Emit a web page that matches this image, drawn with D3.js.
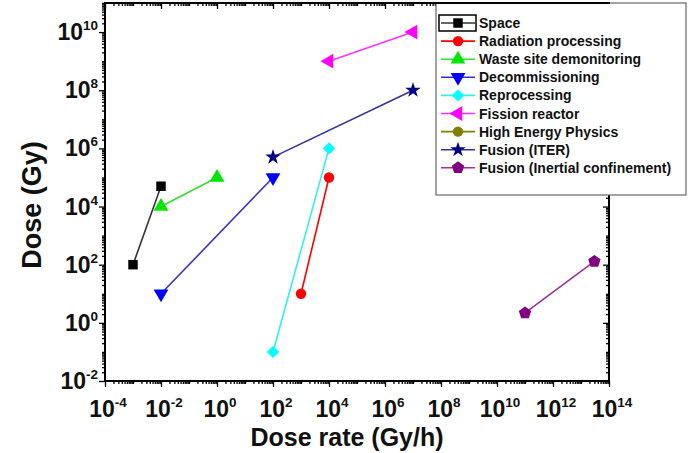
<!DOCTYPE html>
<html>
<head>
<meta charset="utf-8">
<script src="https://cdn.jsdelivr.net/npm/d3@7/dist/d3.min.js"></script>
<style>
  html, body { margin: 0; padding: 0; background: #fff; }
  svg { display: block; font-family: "Liberation Sans", Arial, sans-serif; font-weight: bold; }
</style>
</head>
<body>
<svg id="chart" width="697" height="453"></svg>
<script>
// Series names, colours and marker shapes
const seriesNames = ["Space", "Radiation processing", "Waste site demonitoring", "Decommissioning",
  "Reprocessing", "Fission reactor", "High Energy Physics", "Fusion (ITER)", "Fusion (Inertial confinement)"];
const seriesColors = ["#000000", "#ff0000", "#00e600", "#0000ff", "#00ffff", "#ff00ff", "#808000", "#000080", "#800080"];
const seriesLineColors = ["#333333", "#ff0000", "#33dd33", "#3333cc", "#33eeee", "#ff33ff", "#808000", "#333399", "#993399"];
const seriesMarkers = ["square", "circle", "triangleUp", "triangleDown", "diamond", "triangleLeft", "circle", "star", "pentagon"];

// Dose rate (Gy/h) and dose (Gy) pairs per series
const spaceRate = [1e-3, 1e-2];         const spaceDose = [1e2, 5e4];
const radProcRate = [1e3, 1e4];         const radProcDose = [1e1, 1e5];
const wasteRate = [1e-2, 1e0];          const wasteDose = [1e4, 1e5];
const decomRate = [1e-2, 1e2];          const decomDose = [1e1, 1e5];
const reprocRate = [1e2, 1e4];          const reprocDose = [1e-1, 1e6];
const fissionRate = [1e4, 1e7];         const fissionDose = [1e9, 1e10];
const hepRate = [];                     const hepDose = [];
const iterRate = [1e2, 1e7];            const iterDose = [5e5, 1e8];
const inertialRate = [1e11, 3e13];      const inertialDose = [2.2, 1.3e2];

const seriesRates = [spaceRate, radProcRate, wasteRate, decomRate, reprocRate, fissionRate, hepRate, iterRate, inertialRate];
const seriesDoses = [spaceDose, radProcDose, wasteDose, decomDose, reprocDose, fissionDose, hepDose, iterDose, inertialDose];

// Tick label exponents
const xTickExps = [-4, -2, 0, 2, 4, 6, 8, 10, 12, 14];
const yTickExps = [-2, 0, 2, 4, 6, 8, 10];

const svg = d3.select("#chart");
const plotLeft = 105, plotRight = 609, plotTop = 3, plotBottom = 381;

const x = d3.scaleLog().domain([1e-4, 1e14]).range([plotLeft, plotRight]);
const y = d3.scaleLog().domain([1e-2, 1e11]).range([plotBottom, plotTop]);

// Minor ticks: every 1..9 x decade; major ticks at labelled decades
function logTicks(lo, hi) {
  const t = [];
  for (let e = lo; e < hi; e++) for (let m = 1; m < 10; m++) t.push(m * Math.pow(10, e));
  t.push(Math.pow(10, hi));
  return t;
}
const isMajor = (v, exps) => exps.some(e => Math.abs(Math.log10(v) - e) < 1e-9);
const xMinor = logTicks(-4, 14).filter(v => !isMajor(v, xTickExps));
const yMinor = logTicks(-2, 11).filter(v => !isMajor(v, yTickExps));
const xMajor = xTickExps.map(e => Math.pow(10, e));
const yMajor = yTickExps.map(e => Math.pow(10, e));

function drawAxis(axisGen, transform) {
  const g = svg.append("g").attr("transform", transform).call(axisGen);
  g.selectAll("text").remove();
  g.select(".domain").remove();
  g.selectAll("line").attr("stroke", "#000").attr("stroke-width", 1.3);
  return g;
}

// Bottom / left ticks outward, top / right ticks inward
drawAxis(d3.axisBottom(x).tickValues(xMajor).tickSize(6), `translate(0,${plotBottom})`);
drawAxis(d3.axisBottom(x).tickValues(xMinor).tickSize(3), `translate(0,${plotBottom})`);
drawAxis(d3.axisLeft(y).tickValues(yMajor).tickSize(6), `translate(${plotLeft},0)`);
drawAxis(d3.axisLeft(y).tickValues(yMinor).tickSize(3), `translate(${plotLeft},0)`);
drawAxis(d3.axisBottom(x).tickValues(xMajor).tickSize(6), `translate(0,${plotTop})`);
drawAxis(d3.axisBottom(x).tickValues(xMinor).tickSize(3), `translate(0,${plotTop})`);
drawAxis(d3.axisLeft(y).tickValues(yMajor).tickSize(6), `translate(${plotRight},0)`);
drawAxis(d3.axisLeft(y).tickValues(yMinor).tickSize(3), `translate(${plotRight},0)`);

// Frame
svg.append("rect").attr("x", plotLeft).attr("y", plotTop)
  .attr("width", plotRight - plotLeft).attr("height", plotBottom - plotTop)
  .attr("fill", "none").attr("stroke", "#000").attr("stroke-width", 2);

// Tick labels with superscript exponents
function powLabel(sel, e) {
  sel.append("tspan").text("10");
  sel.append("tspan").attr("dy", -10).attr("font-size", 13.5).text(e);
}
xTickExps.forEach(e => {
  const t = svg.append("text").attr("x", x(Math.pow(10, e)) + 3).attr("y", 417)
    .attr("text-anchor", "middle").attr("font-size", 23).attr("fill", "#111");
  powLabel(t, e);
});
yTickExps.forEach(e => {
  const t = svg.append("text").attr("x", 98).attr("y", y(Math.pow(10, e)) + 8)
    .attr("text-anchor", "end").attr("font-size", 23).attr("fill", "#111");
  powLabel(t, e);
});

// Axis titles
svg.append("text").attr("x", 347).attr("y", 446).attr("text-anchor", "middle")
  .attr("font-size", 25).attr("fill", "#111").text("Dose rate (Gy/h)");
svg.append("text").attr("transform", "translate(41,205) rotate(-90)").attr("text-anchor", "middle")
  .attr("font-size", 27).attr("fill", "#111").text("Dose (Gy)");

// Marker symbols
const shapeOf = {
  square: d3.symbolSquare, circle: d3.symbolCircle, triangleUp: d3.symbolTriangle,
  triangleDown: d3.symbolTriangle, triangleLeft: d3.symbolTriangle, star: d3.symbolStar
};
const rotOf = { triangleDown: 180, triangleLeft: -90 };
function polyPath(n, r, start) {
  const pts = d3.range(n).map(i => {
    const a = start + i * 2 * Math.PI / n;
    return [r * Math.cos(a), r * Math.sin(a)];
  });
  return "M" + pts.map(p => p.join(",")).join("L") + "Z";
}
const sizeOf = { square: 90, circle: 85, triangleUp: 95, triangleDown: 95, triangleLeft: 95, star: 75 };
function marker(g, kind, color, cx, cy) {
  let p;
  if (kind === "pentagon") p = polyPath(5, 6.5, -Math.PI / 2);
  else if (kind === "diamond") p = polyPath(4, 6.2, -Math.PI / 2);
  else p = d3.symbol().type(shapeOf[kind]).size(sizeOf[kind])();
  g.append("path").attr("d", p).attr("fill", color)
    .attr("transform", `translate(${cx},${cy}) rotate(${rotOf[kind] || 0})`);
}

// Series
const line = d3.line().x(d => x(d[0])).y(d => y(d[1]));
seriesNames.forEach((name, i) => {
  const pts = seriesRates[i].map((r, k) => [r, seriesDoses[i][k]]);
  if (!pts.length) return;
  const g = svg.append("g");
  g.append("path").attr("d", line(pts)).attr("fill", "none")
    .attr("stroke", seriesLineColors[i]).attr("stroke-width", 1.6);
  pts.forEach(p => marker(g, seriesMarkers[i], seriesColors[i], x(p[0]), y(p[1])));
});

// Legend
const lg = svg.append("g");
lg.append("rect").attr("x", 436).attr("y", 3).attr("width", 250).attr("height", 192)
  .attr("fill", "#fff").attr("stroke", "#666").attr("stroke-width", 1.2);
svg.append("line").attr("x1", plotLeft).attr("x2", 610).attr("y1", plotTop).attr("y2", plotTop)
  .attr("stroke", "#000").attr("stroke-width", 2);
seriesNames.forEach((name, i) => {
  const yy = 23 + i * 18.1;
  lg.append("line").attr("x1", 441).attr("x2", 475).attr("y1", yy).attr("y2", yy)
    .attr("stroke", seriesLineColors[i]).attr("stroke-width", 1.6);
  marker(lg, seriesMarkers[i], seriesColors[i], 458, yy);
  lg.append("text").attr("x", 479).attr("y", yy + 5).attr("font-size", 14).attr("fill", "#111").text(name);
});
// Highlight frame around the first legend sample
lg.append("rect").attr("x", 439).attr("y", 15).attr("width", 37).attr("height", 16)
  .attr("fill", "none").attr("stroke", "#000").attr("stroke-width", 1.5);
</script>
</body>
</html>
